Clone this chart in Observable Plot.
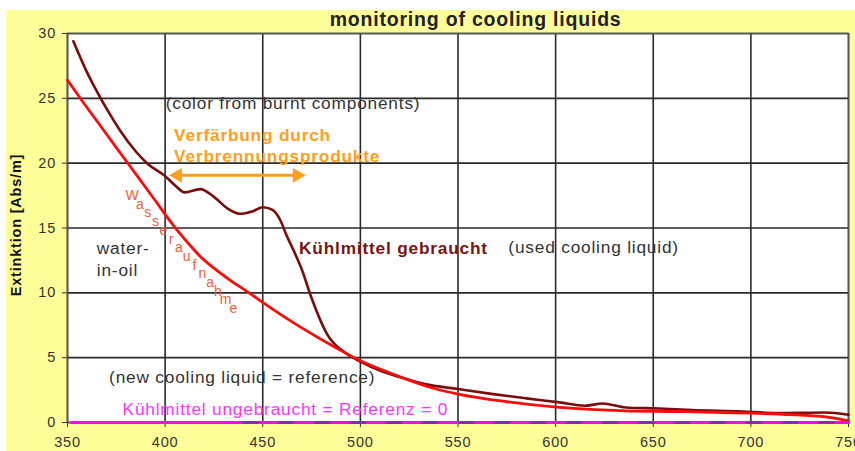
<!DOCTYPE html>
<html>
<head>
<meta charset="utf-8">
<script src="https://cdn.jsdelivr.net/npm/d3@7"></script>
<script src="https://cdn.jsdelivr.net/npm/@observablehq/plot@0.6"></script>
<style>
  body { margin: 0; background: #fff; }
</style>
</head>
<body>
<div id="chart"></div>
<script>
// ---- data ----
const titleText = "monitoring of cooling liquids";
const yLabelText = "Extinktion [Abs/m]";
const xTicks = [350, 400, 450, 500, 550, 600, 650, 700, 750];
const yTicks = [0, 5, 10, 15, 20, 25, 30];

// used cooling liquid (dark red)
const usedWavelength = [353, 360, 367, 372, 377, 385, 391, 400, 405, 410, 418, 425, 432, 438, 445, 450, 455, 459, 462, 466, 470, 475, 483, 493, 500, 510, 520, 533, 550, 568, 585, 602, 615, 624, 636, 653, 670, 696, 713, 738, 750];
const usedExtinction = [29.4, 27.0, 25.0, 23.7, 22.5, 20.9, 19.95, 19.0, 18.3, 17.75, 18.0, 17.4, 16.5, 16.1, 16.3, 16.6, 16.4, 15.6, 14.5, 13.2, 11.8, 9.6, 6.8, 5.3, 4.7, 4.0, 3.5, 2.96, 2.58, 2.19, 1.86, 1.55, 1.29, 1.47, 1.16, 1.08, 0.96, 0.85, 0.73, 0.77, 0.6];

// water-in-oil (red)
const waterWavelength = [350, 358, 367, 375, 387, 395, 405, 412, 418, 425, 433, 442, 452, 461, 470, 487, 500, 520, 536, 550, 575, 602, 636, 660, 687, 721, 740, 750];
const waterExtinction = [26.4, 24.7, 22.85, 21.2, 18.75, 17.1, 15.05, 13.8, 12.8, 11.9, 11.0, 10.1, 9.05, 8.15, 7.3, 5.8, 4.76, 3.55, 2.7, 2.19, 1.6, 1.16, 0.9, 0.85, 0.77, 0.6, 0.4, 0.13];

// new cooling liquid = reference (magenta, zero)
const refWavelength = [352, 750];
const refExtinction = [0, 0];
const ref2Wavelength = [440, 750];
const ref2Extinction = [0, 0];

// annotations
const colorNote = ["(color from burnt components)"];
const verfNote = ["Verfärbung durch\nVerbrennungsprodukte"];
const waterNote = ["water-\nin-oil"];
const usedNote = ["Kühlmittel gebraucht"];
const usedEnNote = ["(used cooling liquid)"];
const newNote = ["(new cooling liquid = reference)"];
const refNote = ["Kühlmittel ungebraucht = Referenz = 0"];
const wasserWord = "Wasseraufnahme";
const arrowSpan = [402, 472];
const arrowLevel = 19.06;

// ---- build tables ----
const used = usedWavelength.map((x, i) => ({x, y: usedExtinction[i]}));
const water = waterWavelength.map((x, i) => ({x, y: waterExtinction[i]}));
const ref = refWavelength.map((x, i) => ({x, y: refExtinction[i]}));
const ref2 = ref2Wavelength.map((x, i) => ({x, y: ref2Extinction[i]}));

const letters = Array.from(wasserWord);
const wStart = [383.3, 17.5], wEnd = [435.2, 8.78];
const letterData = letters.map((c, i) => {
  const t = i / (letters.length - 1);
  return {c, x: wStart[0] + t * (wEnd[0] - wStart[0]), y: wStart[1] + t * (wEnd[1] - wStart[1])};
});

const font = "'Liberation Sans', Arial, Helvetica, sans-serif";
const annSize = 17.3;

const chart = Plot.plot({
  width: 855,
  height: 451,
  marginLeft: 67,
  marginRight: 7,
  marginTop: 33,
  marginBottom: 29,
  style: {
    fontFamily: font,
    color: "#333",
    letterSpacing: "0.8px",
    background: "linear-gradient(#ffff99,#ffff99) 6px 10px / 849px 441px no-repeat, white"
  },
  x: {domain: [350, 750]},
  y: {domain: [0, 30]},
  marks: [
    Plot.frame({fill: "white", stroke: null}),
    Plot.ruleX(xTicks, {stroke: "#2a2a2a", strokeWidth: 1.6}),
    Plot.ruleY(yTicks, {stroke: "#2a2a2a", strokeWidth: 1.6}),
    Plot.frame({stroke: "#555", strokeWidth: 1.5}),
    Plot.axisX(xTicks, {tickSize: 5, tickPadding: 9, fontSize: 14.5, color: "#333", label: null}),
    Plot.axisY(yTicks, {tickSize: 5, tickPadding: 6.5, fontSize: 14.5, color: "#333", label: null}),
    // curves
    Plot.line(used, {x: "x", y: "y", stroke: "#7a0c0c", strokeWidth: 2.6, curve: "monotone-x"}),
    Plot.line(water, {x: "x", y: "y", stroke: "#ff0a0a", strokeWidth: 2.8, curve: "monotone-x"}),
    Plot.line(ref, {x: "x", y: "y", stroke: "#ff00ff", strokeWidth: 3}),
    Plot.line(ref2, {x: "x", y: "y", stroke: "#6a2aa8", strokeWidth: 2.5, strokeDasharray: "14,22", strokeOpacity: 0.8}),
    // arrow
    Plot.ruleY([arrowLevel], {x1: arrowSpan[0] + 4, x2: arrowSpan[1] - 4, stroke: "#ff9e1a", strokeWidth: 3}),
    Plot.dot([{x: arrowSpan[0] + 4.4, r: -90}, {x: arrowSpan[1] - 4.4, r: 90}], {x: "x", y: () => arrowLevel, symbol: "triangle", r: 5.5, rotate: "r", fill: "#ff9e1a", stroke: null}),
    // annotations
    Plot.text(colorNote, {x: () => 400.3, y: () => 24.6, text: d => d, textAnchor: "start", fontSize: annSize, fill: "#333"}),
    Plot.text(verfNote, {x: () => 404.6, y: () => 21.4, text: d => d, textAnchor: "start", fontSize: annSize, fontWeight: "bold", fill: "#ff9e1a", lineHeight: 1.2}),
    Plot.text(waterNote, {x: () => 365.0, y: () => 12.68, text: d => d, textAnchor: "start", fontSize: annSize, fill: "#333", lineHeight: 1.25}),
    Plot.text(usedNote, {x: () => 468.6, y: () => 13.39, text: d => d, textAnchor: "start", fontSize: annSize, fontWeight: "bold", fill: "#7a1414"}),
    Plot.text(usedEnNote, {x: () => 575.8, y: () => 13.52, text: d => d, textAnchor: "start", fontSize: annSize, fill: "#333"}),
    Plot.text(newNote, {x: () => 371.3, y: () => 3.48, text: d => d, textAnchor: "start", fontSize: annSize, fill: "#333"}),
    Plot.text(refNote, {x: () => 378.2, y: () => 1.03, text: d => d, textAnchor: "start", fontSize: annSize, fill: "#ff33ff"}),
    Plot.text(letterData, {x: "x", y: "y", text: "c", fontSize: 14, fill: "#f0603a"}),
    // title and y label
    Plot.text([titleText], {frameAnchor: "top", text: d => d, textAnchor: "middle", lineAnchor: "middle", dx: 17.6, dy: -14, fontSize: 19.5, fontWeight: "bold", fill: "#222"}),
    Plot.text([yLabelText], {frameAnchor: "left", text: d => d, textAnchor: "middle", lineAnchor: "middle", dx: -51, dy: -3, rotate: -90, fontSize: 14.5, fontWeight: "bold", fill: "#111"})
  ]
});
document.getElementById("chart").appendChild(chart);
</script>
</body>
</html>
